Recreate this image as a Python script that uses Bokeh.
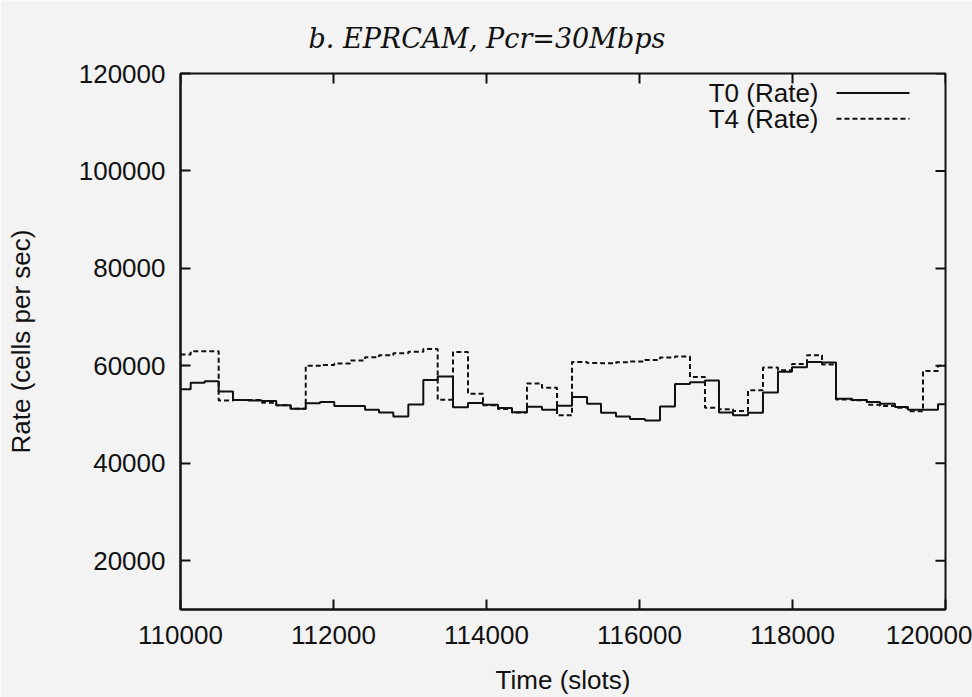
from bokeh.plotting import figure
from bokeh.models import Range1d, FixedTicker, Label, NumeralTickFormatter
from bokeh.embed import file_html
from bokeh.resources import INLINE

# Rate updates happen at these slot times; both traces share them.
slot_edges = [110000, 110133, 110316, 110499, 110686, 110882, 111065, 111252,
              111440, 111637, 111824, 112010, 112216, 112412, 112595, 112782,
              112978, 113174, 113362, 113562, 113758, 113954, 114150, 114333,
              114529, 114725, 114922, 115118, 115314, 115497, 115693, 115876,
              116072, 116268, 116464, 116660, 116856, 117039, 117222, 117418,
              117614, 117810, 117993, 118190, 118386, 118569, 118778, 118974,
              119144, 119340, 119510, 119706, 119902]

# T0 rate (cells per sec), held from each edge to the next
t0_rate = [55200, 56540, 56820, 54750, 53000, 52900, 52800, 51900,
           51200, 52350, 52580, 51750, 51750, 51000, 50450, 49600,
           52050, 57100, 57800, 51500, 52400, 52000, 51340, 50500,
           51600, 51000, 51800, 53600, 52200, 50400, 49600, 49100,
           48800, 51650, 56300, 56640, 57000, 50440, 49840, 50400,
           54510, 58800, 59700, 60800, 60700, 53240, 53000, 52600,
           52200, 51570, 51000, 51000, 52120]

# T4 rate (cells per sec)
t4_rate = [62340, 63000, 63000, 52900, 53000, 53000, 52450, 51900,
           51200, 60040, 60200, 60500, 61120, 61770, 62200, 62600,
           62900, 63460, 53030, 62870, 54300, 51900, 51140, 50430,
           56400, 55500, 49850, 60800, 60570, 60530, 60760, 60900,
           61200, 61700, 61900, 57700, 51400, 51100, 50750, 55000,
           59640, 59100, 60400, 62200, 60300, 53120, 52920, 52000,
           51760, 51400, 50670, 58940, 60020]

x_ticks = [110000, 112000, 114000, 116000, 118000, 120000]
y_ticks = [20000, 40000, 60000, 80000, 100000, 120000]

X_START, X_END = 110000, 120000
Y_START, Y_END = 10000, 120000

W, H = 972, 697
BORDER_L, BORDER_R, BORDER_T, BORDER_B = 180, 27, 70, 86
TICK_PX = 10

BG = "#f3f3f3"
INK = "#111111"
SANS = "Liberation Sans"

p = figure(width=W, height=H, output_backend="svg", toolbar_location=None,
           x_range=Range1d(X_START, X_END), y_range=Range1d(Y_START, Y_END),
           min_border_left=BORDER_L, min_border_right=BORDER_R,
           min_border_top=BORDER_T, min_border_bottom=BORDER_B,
           background_fill_color=BG, border_fill_color=BG,
           outline_line_color=INK, outline_line_width=2)

p.title.text = "b. EPRCAM, Pcr=30Mbps"
p.title.text_font = "DejaVu Serif"
p.title.text_font_style = "italic"
p.title.text_font_size = "27px"
p.title.text_color = INK
p.title.align = "left"
p.title.offset = 128
p.title.standoff = 40
p.grid.visible = False

for ax, ticks in ((p.xaxis[0], x_ticks), (p.yaxis[0], y_ticks)):
    ax.ticker = FixedTicker(ticks=ticks)
    ax.formatter = NumeralTickFormatter(format="0")
    ax.major_tick_in = TICK_PX
    ax.major_tick_out = 0
    ax.minor_tick_in = 0
    ax.minor_tick_out = 0
    ax.axis_line_color = INK
    ax.axis_line_width = 2
    ax.major_tick_line_color = INK
    ax.major_tick_line_width = 2
    ax.major_label_text_font = SANS
    ax.major_label_text_font_size = "26px"
    ax.major_label_text_color = INK
    ax.axis_label_text_font = SANS
    ax.axis_label_text_font_size = "26px"
    ax.axis_label_text_font_style = "normal"
    ax.axis_label_text_color = INK

p.xaxis.major_label_standoff = 16
p.yaxis.major_label_standoff = 15
p.xaxis.axis_label = "Time (slots)"
p.yaxis.axis_label = "Rate (cells per sec)"
p.xaxis.axis_label_standoff = 18
p.yaxis.axis_label_standoff = 40

# mirrored inward ticks on the right and top edges of the box
frame_w = W - BORDER_L - BORDER_R
frame_h = H - BORDER_T - BORDER_B
dx = TICK_PX * (X_END - X_START) / frame_w
dy = TICK_PX * (Y_END - Y_START) / frame_h
p.segment(x0=[X_END - dx] * len(y_ticks), y0=y_ticks,
          x1=[X_END] * len(y_ticks), y1=y_ticks, line_color=INK, line_width=2)
p.segment(x0=x_ticks, y0=[Y_END - dy] * len(x_ticks),
          x1=x_ticks, y1=[Y_END] * len(x_ticks), line_color=INK, line_width=2)

# step traces: each value holds until the next edge, the last one to X_END
xs = slot_edges + [X_END]
p.step(xs, t0_rate + [t0_rate[-1]], mode="after", line_color=INK, line_width=2)
p.step(xs, t4_rate + [t4_rate[-1]], mode="after", line_color=INK, line_width=2,
       line_dash="5 3")

# key in the upper right: label first, then the line sample
key_text_x = 118340
key_line = [118575, 119529]
key_rows = [("T0 (Rate)", 116000, "solid"), ("T4 (Rate)", 110700, "5 3")]
for text, yrow, dash in key_rows:
    p.add_layout(Label(x=key_text_x, y=yrow, text=text, text_align="right",
                       text_baseline="middle", text_font=SANS,
                       text_font_size="26px", text_color=INK))
    p.line(key_line, [yrow, yrow], line_color=INK, line_width=2, line_dash=dash)

open("out.html", "w").write(file_html(p, INLINE))
